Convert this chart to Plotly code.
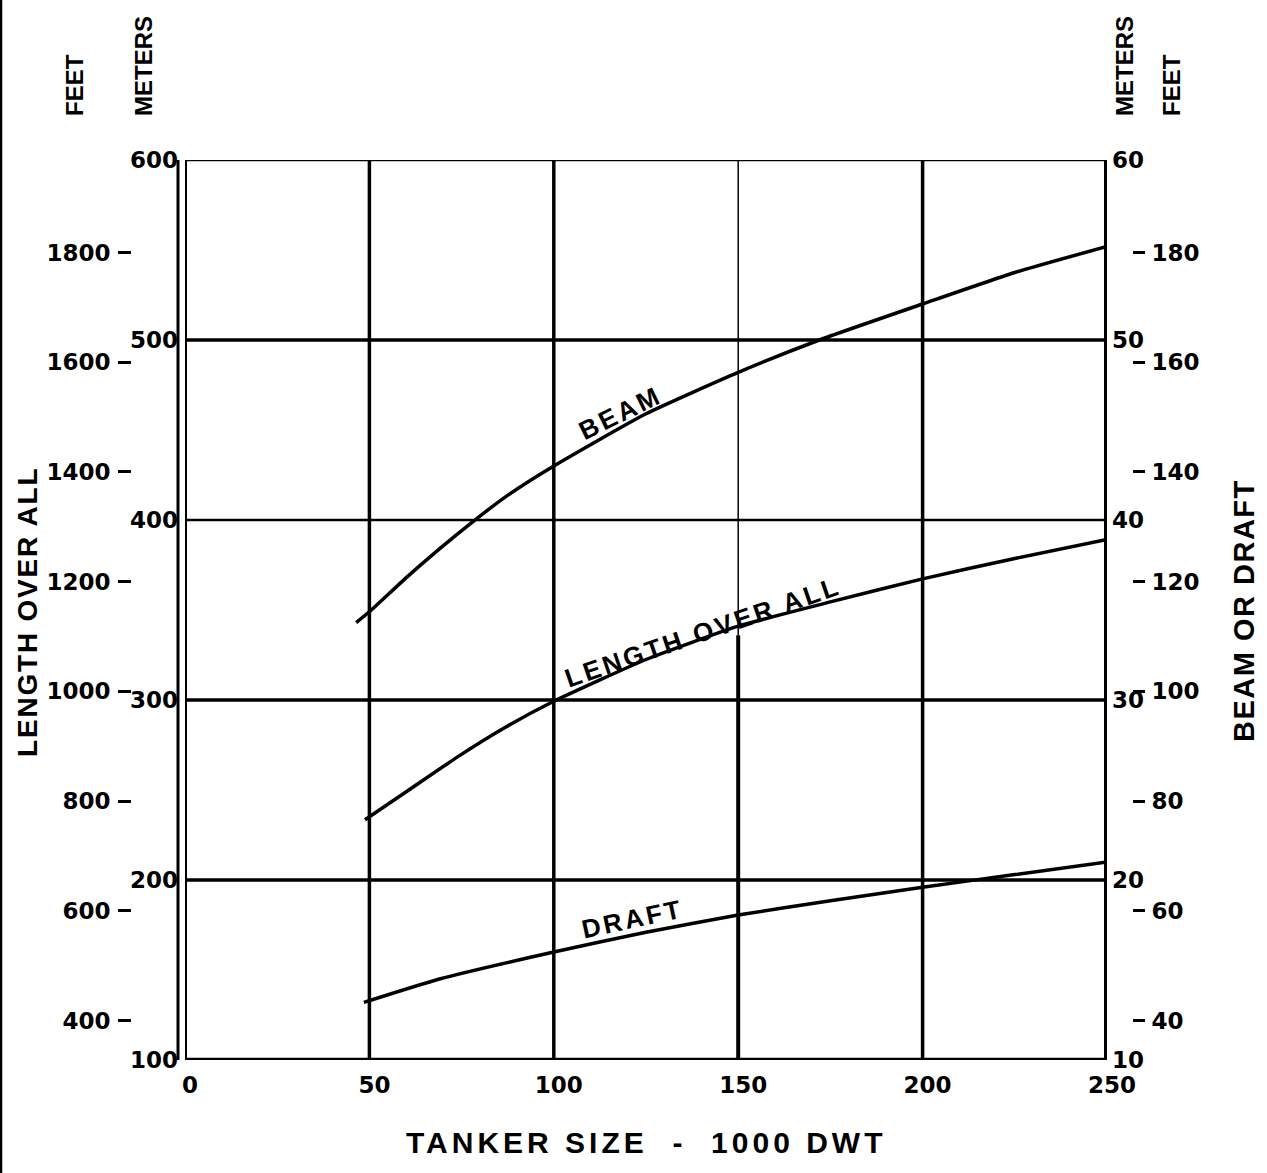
import plotly.graph_objects as go

# ---------------- data ----------------
beam_dwt = [46.4, 50, 60, 69, 78, 87, 100, 125, 150, 172, 200, 225, 250]
beam_m = [34.3, 34.9, 36.8, 38.4, 39.9, 41.3, 43.0, 45.9, 48.2, 50.0, 52.0, 53.75, 55.2]

loa_dwt = [48.8, 60, 73.6, 87, 100, 125, 150, 175, 200, 225, 250]
loa_m = [233.5, 249.0, 268.0, 285.0, 299.3, 322.5, 341.0, 354.5, 367.3, 378.6, 389.2]

draft_dwt = [48.5, 69, 100, 125, 150, 175, 200, 225, 250]
draft_m = [13.2, 14.5, 16.0, 17.1, 18.05, 18.85, 19.6, 20.3, 21.0]

x_ticks = [0, 50, 100, 150, 200, 250]
loa_m_ticks = [100, 200, 300, 400, 500, 600]
loa_ft_ticks = [400, 600, 800, 1000, 1200, 1400, 1600, 1800]
bd_m_ticks = [10, 20, 30, 40, 50, 60]
bd_ft_ticks = [40, 60, 80, 100, 120, 140, 160, 180]
FT = 0.3048

W, H = 1267, 1173
def px(x):
    return x / W
def py(y):
    return 1 - y / H

XDOM = [px(185), px(1107)]
YDOM = [py(1060), py(160)]

tickfont = dict(family="DejaVu Sans", size=23, color="black", weight="bold")
lab = "Liberation Sans"

fig = go.Figure()
line = dict(color="black", width=3.5, shape="spline", smoothing=0.5)
fig.add_trace(go.Scatter(x=loa_dwt, y=loa_m, mode="lines", line=line, yaxis="y",
                         showlegend=False, hoverinfo="skip"))
fig.add_trace(go.Scatter(x=beam_dwt, y=beam_m, mode="lines", line=line, yaxis="y2",
                         showlegend=False, hoverinfo="skip"))
fig.add_trace(go.Scatter(x=draft_dwt, y=draft_m, mode="lines", line=line, yaxis="y2",
                         showlegend=False, hoverinfo="skip"))
# invisible traces so that the feet axes are drawn
fig.add_trace(go.Scatter(x=[0], y=[loa_ft_ticks[0]], mode="markers", marker=dict(opacity=0),
                         yaxis="y3", showlegend=False, hoverinfo="skip"))
fig.add_trace(go.Scatter(x=[0], y=[bd_ft_ticks[0]], mode="markers", marker=dict(opacity=0),
                         yaxis="y4", showlegend=False, hoverinfo="skip"))

shapes = []
# horizontal grid lines
for v in loa_m_ticks[1:-1]:
    shapes.append(dict(type="line", xref="x", yref="y", x0=0, x1=250, y0=v, y1=v,
                       line=dict(color="black", width=2.5 if v == 400 else 3.5)))
# vertical grid lines
for v in x_ticks[1:-1]:
    if v == 150:
        shapes.append(dict(type="line", xref="x", yref="y", x0=v, x1=v, y0=100, y1=336,
                           line=dict(color="black", width=4)))
        shapes.append(dict(type="line", xref="x", yref="y", x0=v, x1=v, y0=336, y1=600,
                           line=dict(color="black", width=1.5)))
    else:
        shapes.append(dict(type="line", xref="x", yref="y", x0=v, x1=v, y0=100, y1=600,
                           line=dict(color="black", width=3.5)))
# frame
shapes += [
    dict(type="line", xref="x", yref="y", x0=0, x1=0, y0=100, y1=600, line=dict(color="black", width=4)),
    dict(type="line", xref="paper", yref="y", x0=px(178), x1=px(178), y0=100, y1=600, line=dict(color="black", width=3)),
    dict(type="line", xref="x", yref="y", x0=250, x1=250, y0=100, y1=600, line=dict(color="black", width=6)),
    dict(type="line", xref="x", yref="y", x0=0, x1=250, y0=100, y1=100, line=dict(color="black", width=4.5)),
    dict(type="line", xref="x", yref="y", x0=0, x1=250, y0=600, y1=600, line=dict(color="black", width=2.5)),
    # page border at left edge
    dict(type="line", xref="paper", yref="paper", x0=px(1), x1=px(1), y0=0, y1=1, line=dict(color="black", width=2.5)),
]

def ann(text, x, y, size, angle=0, spacing=0, xanchor="center", yanchor="middle"):
    return dict(text='<span style="letter-spacing:%spx"><b>%s</b></span>' % (spacing, text),
                x=x, y=y, xref="paper", yref="paper", showarrow=False, textangle=angle,
                xanchor=xanchor, yanchor=yanchor,
                font=dict(family=lab, size=size, color="black"))

annotations = [
    ann("FEET", px(74), py(118), 24, -90, 0, "center", "bottom"),
    ann("METERS", px(143), py(118), 24, -90, 0, "center", "bottom"),
    ann("METERS", px(1124), py(118), 24, -90, 0, "center", "bottom"),
    ann("FEET", px(1171), py(118), 24, -90, 0, "center", "bottom"),
    ann("LENGTH OVER ALL", px(27), py(612), 28, -90, 1.8),
    ann("BEAM OR DRAFT", px(1244), py(611), 29, -90, 1.5),
    ann("TANKER SIZE\u00a0\u00a0-\u00a0\u00a01000 DWT", px(646), py(1142), 30, 0, 4),
    ann("BEAM", px(620), py(413), 26, -26, 3),
    ann("LENGTH OVER ALL", px(703), py(632), 26, -19, 3),
    ann("DRAFT", px(632), py(919), 26, -12, 3),
]

common = dict(showgrid=False, zeroline=False, showline=False, automargin=False, fixedrange=True,
              tickfont=tickfont)

fig.update_layout(
    width=W, height=H, autosize=False,
    margin=dict(l=0, r=0, t=0, b=0, pad=0, autoexpand=False),
    paper_bgcolor="white", plot_bgcolor="white",
    showlegend=False,
    xaxis=dict(domain=XDOM, range=[0, 250], tickvals=x_ticks, ticktext=[str(v) for v in x_ticks],
               ticks="", ticklabelstandoff=9, ticklabelshift=5, **common),
    yaxis=dict(domain=YDOM, range=[100, 600], tickvals=loa_m_ticks, ticks="",
               ticklabelstandoff=6, **common),
    yaxis2=dict(overlaying="y", side="right", anchor="x", range=[10, 60], tickvals=bd_m_ticks,
                ticks="", ticklabelstandoff=4, **common),
    yaxis3=dict(overlaying="y", side="left", anchor="free", position=px(131),
                range=[100 / FT, 600 / FT], tickvals=loa_ft_ticks,
                ticks="outside", ticklen=13, tickwidth=3, tickcolor="black",
                ticklabelstandoff=3, **common),
    yaxis4=dict(overlaying="y", side="right", anchor="free", position=px(1132),
                range=[10 / FT, 60 / FT], tickvals=bd_ft_ticks,
                ticks="outside", ticklen=12, tickwidth=3, tickcolor="black",
                ticklabelstandoff=2, **common),
    shapes=shapes,
    annotations=annotations,
)

fig.write_html(
    "out.html",
    config={"responsive": False, "displayModeBar": False},
    post_script="document.body.style.margin='0';document.body.style.overflow='hidden';",
)
